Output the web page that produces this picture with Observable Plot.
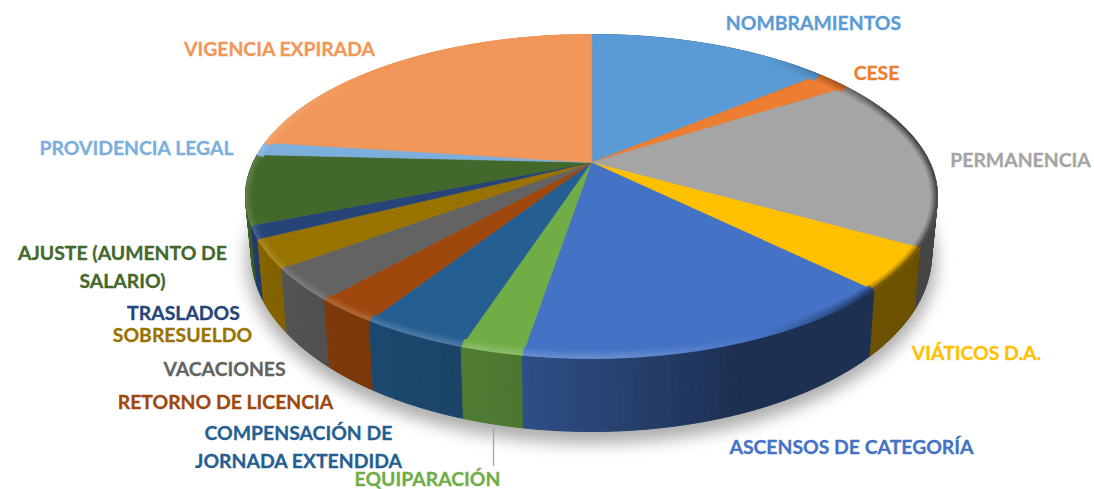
<!DOCTYPE html>
<html><head><meta charset="utf-8">
<script src="https://cdn.jsdelivr.net/npm/d3@7"></script>
<script src="https://cdn.jsdelivr.net/npm/@observablehq/plot@0.6"></script>
<style>
html,body{margin:0;padding:0;background:#fff}
svg{display:block}
.pie-shadow{filter:blur(8px)}
.pie-bevel{filter:blur(.5px)}
</style></head><body><div id="chart"></div>
<script>
// Data (percent of the pie, clockwise from 12 o'clock)
const categories = ["NOMBRAMIENTOS","CESE","PERMANENCIA","VIÁTICOS D.A.","ASCENSOS DE CATEGORÍA","EQUIPARACIÓN","COMPENSACIÓN DE JORNADA EXTENDIDA","RETORNO DE LICENCIA","VACACIONES","SOBRESUELDO","TRASLADOS","AJUSTE (AUMENTO DE SALARIO)","PROVIDENCIA LEGAL","VIGENCIA EXPIRADA"];
const values = [13.9,2.0,17.3,4.2,15.2,2.4,4.1,2.5,3.2,2.8,1.3,6.9,1.3,22.9];
const colors = ["#5b9bd5","#ed7d31","#a5a5a5","#ffc000","#4472c4","#70ad47","#255e91","#9e480e","#636363","#997300","#264478","#43682b","#7cafdd","#f1975a"];
// Label layout (kept apart from the data)
const labelLines = [["NOMBRAMIENTOS"],["CESE"],["PERMANENCIA"],["VIÁTICOS D.A."],["ASCENSOS DE CATEGORÍA"],["EQUIPARACIÓN"],["COMPENSACIÓN DE","JORNADA EXTENDIDA"],["RETORNO DE LICENCIA"],["VACACIONES"],["SOBRESUELDO"],["TRASLADOS"],["AJUSTE (AUMENTO DE","SALARIO)"],["PROVIDENCIA LEGAL"],["VIGENCIA EXPIRADA"]];
const labelX = [813,876,1020,976,851,427,298,225,224,182,183,122,136,279];
const labelY = [23,73,160,353,447,479,433,402,369,335,313,253,148,49];

// Perspective view of the pie
const W = 1094, H = 489;
const cx = 591, apexY = 162;
const top_ = {cy:196, rx:346, ry:162};
const bot = {cy:254, rx:340, ry:177};
const persp = {A:155, B:338, p:0.21};
const rad = d => d*Math.PI/180;

// pie angle (deg) -> angle on the drawn ellipse
function phi(theta){
  const u = Math.sin(rad(theta)), v = Math.cos(rad(theta)), d = 1 + persp.p*v;
  const x = persp.B*u/d, y = apexY - persp.A*v/d;
  return Math.atan2(x/top_.rx, (top_.cy-y)/top_.ry);
}
const onEll = (e, f, dr=0) => [cx + (e.rx-dr*0.8)*Math.sin(f), e.cy - (e.ry-dr)*Math.cos(f)];

let cum = 0;
const slices = values.map((v,i)=>{ const s={i, a0:cum/100*360, a1:(cum+v)/100*360, color:colors[i], name:categories[i]}; cum+=v; return s; });
const angleSteps = s => { const n=Math.max(2,Math.ceil((s.a1-s.a0)/1)); return d3.range(n+1).map(k=>s.a0+(s.a1-s.a0)*k/n); };

const sideShade = d3.scaleLinear().domain([90,155,190,270]).range([.42,.42,.68,.92]).clamp(true);
const bevelAmt = d3.scaleLinear().domain([30,60,125,150,175,290,320]).range([0,-.6,-.6,0,.2,.15,0]).clamp(true);
const deg = f => { let d=f*180/Math.PI; return d<0?d+360:d; };
const shade = (c,k)=>{ const r=d3.rgb(c); return d3.rgb(r.r*k,r.g*k,r.b*k).formatHex(); };
const mix = (c,w)=> w>=0 ? d3.interpolateRgb(c,"#fff")(w) : d3.interpolateRgb(c,"#000")(-w);

// walls
const walls=[]; let z=0;
slices.forEach(s=>{
  const as=angleSteps(s);
  d3.pairs(as).forEach(([a,b])=>{
    const f0=phi(a), f1=phi(b), col=shade(s.color, sideShade(deg(phi((a+b)/2))));
    const key=Math.cos(f0)+Math.cos(f1);
    [onEll(top_,f0),onEll(top_,f1),onEll(bot,f1),onEll(bot,f0)].forEach(p=>walls.push({x:p[0],y:p[1],z,col,key}));
    z++;
  });
});
walls.sort((p,q)=>d3.descending(p.key,q.key));

// top face
const faces=[];
slices.forEach(s=>{
  faces.push({x:cx,y:apexY,z:s.i,col:s.color});
  angleSteps(s).forEach(a=>{const p=onEll(top_,phi(a)); faces.push({x:p[0],y:p[1],z:s.i,col:s.color});});
});

// rounded edge
const bands=[0,2,4,6,8];
const bevels=[]; let bz=0;
slices.forEach(s=>{
  d3.pairs(angleSteps(s)).forEach(([a,b])=>{
    const f0=phi(a), f1=phi(b), amt=bevelAmt(deg(phi((a+b)/2)));
    d3.pairs(bands).forEach(([d0,d1],k)=>{
      const col=mix(s.color, amt*(1-k/(bands.length-1)));
      [onEll(top_,f0,d0),onEll(top_,f1,d0),onEll(top_,f1,d1),onEll(top_,f0,d1)].forEach(p=>bevels.push({x:p[0],y:p[1],z:bz,col}));
      bz++;
    });
  });
});

// soft shadow
const shadow=d3.range(0,361,2).map(d=>{const p=onEll(bot,rad(d),-6); return {x:p[0],y:p[1]+6};});

const labels=[];
labelLines.forEach((ls,i)=>ls.forEach((t,j)=>labels.push({t,x:labelX[i],y:labelY[i]+j*28,col:colors[i]})));

const poly=(data,extra={})=>Plot.line(data,{x:"x",y:"y",z:"z",fill:"col",stroke:"col",strokeWidth:1,curve:"linear-closed",...extra});

const chart=Plot.plot({
  width:W,height:H,margin:0,
  x:{domain:[0,W],axis:null},
  y:{domain:[H,0],axis:null},
  color:{type:"identity"},
  style:{background:"#fff"},
  marks:[
    Plot.line(shadow,{x:"x",y:"y",fill:"#000",fillOpacity:.32,stroke:null,curve:"linear-closed",className:"pie-shadow"}),
    poly(walls),
    poly(faces,{strokeWidth:.5}),
    poly(bevels,{className:"pie-bevel",strokeWidth:.5}),
    Plot.ruleX([493],{y1:427,y2:466,stroke:"#a6a6a6",strokeWidth:1.3}),
    Plot.text(labels,{x:"x",y:"y",text:"t",fill:"col",stroke:"col",strokeWidth:.3,fontFamily:"Lato",fontWeight:700,fontSize:19.4,textAnchor:"middle",lineAnchor:"middle"})
  ]
});
document.getElementById("chart").append(chart);
</script></body></html>
